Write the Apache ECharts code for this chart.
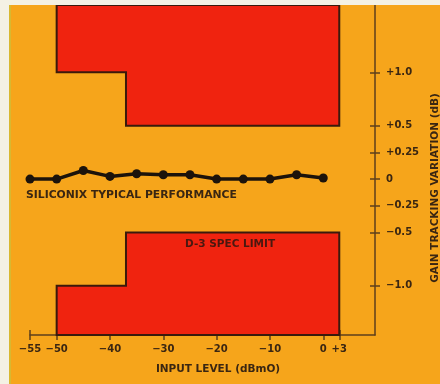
<!DOCTYPE html>
<html>
<head>
<meta charset="utf-8">
<script src="https://cdn.jsdelivr.net/npm/echarts@6/dist/echarts.min.js"></script>
<style>
  html, body { margin: 0; padding: 0; background: #f4f1e4; }
  #chart { width: 440px; height: 384px; }
</style>
</head>
<body>
<div id="chart"></div>
<script>
// typical performance curve
const typicalX = [-55, -50, -45, -40, -35, -30, -25, -20, -15, -10, -5, 0]
const typicalY = [0, 0, 0.08, 0.025, 0.05, 0.04, 0.04, 0, 0, 0, 0.04, 0.01]

// D-3 spec limit bands: edges on the input axis, limit per band
const specEdgeX = [-50, -37, 3]
const specUpper = [1.0, 0.5]
const specLower = [-1.0, -0.5]

// tick values and labels
const xTickValues = [-55, -50, -40, -30, -20, -10, 0, 3]
const xTickLabels = ['\u221255', '\u221250', '\u221240', '\u221230', '\u221220', '\u221210', '0', '+3']
const yTickValues = [1.0, 0.5, 0.25, 0, -0.25, -0.5, -1.0]
const yTickLabels = ['+1.0', '+0.5', '+0.25', '0', '\u22120.25', '\u22120.5', '\u22121.0']

const X_MIN = -55
const X_MAX = 9.7
const Y_MIN = -1.46
const Y_MAX = 1.63

const GRID_LEFT = 30
const GRID_RIGHT = 65
const GRID_TOP = 5
const GRID_BOTTOM = 49
const plotW = 440 - GRID_LEFT - GRID_RIGHT
const plotH = 384 - GRID_TOP - GRID_BOTTOM

const ink = '#3a2612'
const axisColor = '#5e3f1c'
const font = '"DejaVu Sans", Verdana, sans-serif'

function labelFor(values, labels, v) {
  const i = values.findIndex((t) => Math.abs(t - v) < 1e-6)
  return i >= 0 ? labels[i] : ''
}

function renderSpec(params, api) {
  const sign = api.value(0)
  const limits = sign > 0 ? specUpper : specLower
  const edge = sign > 0 ? Y_MAX : Y_MIN
  const pts = [api.coord([specEdgeX[0], edge])]
  for (let i = 0; i < limits.length; i++) {
    pts.push(api.coord([specEdgeX[i], limits[i]]))
    pts.push(api.coord([specEdgeX[i + 1], limits[i]]))
  }
  pts.push(api.coord([specEdgeX[specEdgeX.length - 1], edge]))
  return {
    type: 'polygon',
    shape: { points: pts },
    style: { fill: '#f0230f', stroke: '#3a1a0c', lineWidth: 2 }
  }
}

const tickStyle = { color: axisColor, width: 1.5 }

const chart = echarts.init(document.getElementById('chart'))

chart.setOption({
  backgroundColor: '#f6a51b',
  animation: false,
  grid: {
    left: GRID_LEFT,
    right: GRID_RIGHT,
    top: GRID_TOP,
    bottom: GRID_BOTTOM,
    containLabel: false,
    outerBoundsMode: 'none'
  },
  xAxis: [
    {
      type: 'value',
      min: X_MIN,
      max: X_MAX,
      position: 'bottom',
      axisLine: { show: true, onZero: false, lineStyle: tickStyle },
      axisTick: { show: true, customValues: xTickValues, length: 5, lineStyle: tickStyle },
      axisLabel: {
        customValues: xTickValues,
        formatter: (v) => labelFor(xTickValues, xTickLabels, v),
        color: ink,
        fontFamily: font,
        fontWeight: 'bold',
        fontSize: 10,
        margin: 9
      },
      splitLine: { show: false },
      name: 'INPUT LEVEL (dBmO)',
      nameLocation: 'middle',
      nameGap: 29,
      nameTextStyle: {
        color: ink,
        fontFamily: font,
        fontWeight: 'bold',
        fontSize: 10.5,
        padding: [0, 0, 0, 31]
      }
    },
    {
      // second axis moved onto the bottom line so ticks cross it
      type: 'value',
      min: X_MIN,
      max: X_MAX,
      position: 'top',
      offset: -plotH,
      axisLine: { show: false, onZero: false },
      axisTick: { show: true, customValues: xTickValues, length: 5, lineStyle: tickStyle },
      axisLabel: { show: false },
      splitLine: { show: false }
    }
  ],
  yAxis: [
    {
      type: 'value',
      min: Y_MIN,
      max: Y_MAX,
      position: 'right',
      axisLine: { show: true, onZero: false, lineStyle: tickStyle },
      axisTick: { show: true, customValues: yTickValues, length: 5, lineStyle: tickStyle },
      axisLabel: {
        customValues: yTickValues,
        formatter: (v) => labelFor(yTickValues, yTickLabels, v),
        color: ink,
        fontFamily: font,
        fontWeight: 'bold',
        fontSize: 10,
        margin: 11
      },
      splitLine: { show: false },
      name: 'GAIN TRACKING VARIATION (dB)',
      nameLocation: 'middle',
      nameRotate: 90,
      nameGap: 53,
      nameTextStyle: {
        color: ink,
        fontFamily: font,
        fontWeight: 'bold',
        fontSize: 10.5,
        padding: [0, 36, 0, 0]
      }
    },
    {
      // second axis moved onto the right line so ticks cross it
      type: 'value',
      min: Y_MIN,
      max: Y_MAX,
      position: 'left',
      offset: -plotW,
      axisLine: { show: false, onZero: false },
      axisTick: { show: true, customValues: yTickValues, length: 5, lineStyle: tickStyle },
      axisLabel: { show: false },
      splitLine: { show: false }
    }
  ],
  graphic: [
    { type: 'rect', z: 100, shape: { x: 0, y: 0, width: 9, height: 384 }, style: { fill: '#f4f1e4' } },
    { type: 'rect', z: 100, shape: { x: 0, y: 0, width: 440, height: 5 }, style: { fill: '#f4f1e4' } },
    { type: 'rect', z: 100, shape: { x: 9, y: 5, width: 2, height: 379 }, style: { fill: '#d8b830' } },
    {
      type: 'text',
      z: 100,
      left: 26,
      top: 190,
      style: { text: 'SILICONIX TYPICAL PERFORMANCE', fill: ink, font: 'bold 10.8px ' + font }
    },
    {
      type: 'text',
      z: 100,
      left: 185,
      top: 239,
      style: { text: 'D-3 SPEC LIMIT', fill: '#4a1810', font: 'bold 10.5px ' + font }
    }
  ],
  series: [
    {
      type: 'custom',
      xAxisIndex: 0,
      yAxisIndex: 0,
      renderItem: renderSpec,
      data: [[1], [-1]],
      z: 1
    },
    {
      type: 'line',
      xAxisIndex: 0,
      yAxisIndex: 0,
      data: typicalX.map((x, i) => [x, typicalY[i]]),
      symbol: 'circle',
      symbolSize: 9,
      lineStyle: { color: '#1c130b', width: 3.5 },
      itemStyle: { color: '#1c130b' },
      z: 3
    }
  ]
})
</script>
</body>
</html>
